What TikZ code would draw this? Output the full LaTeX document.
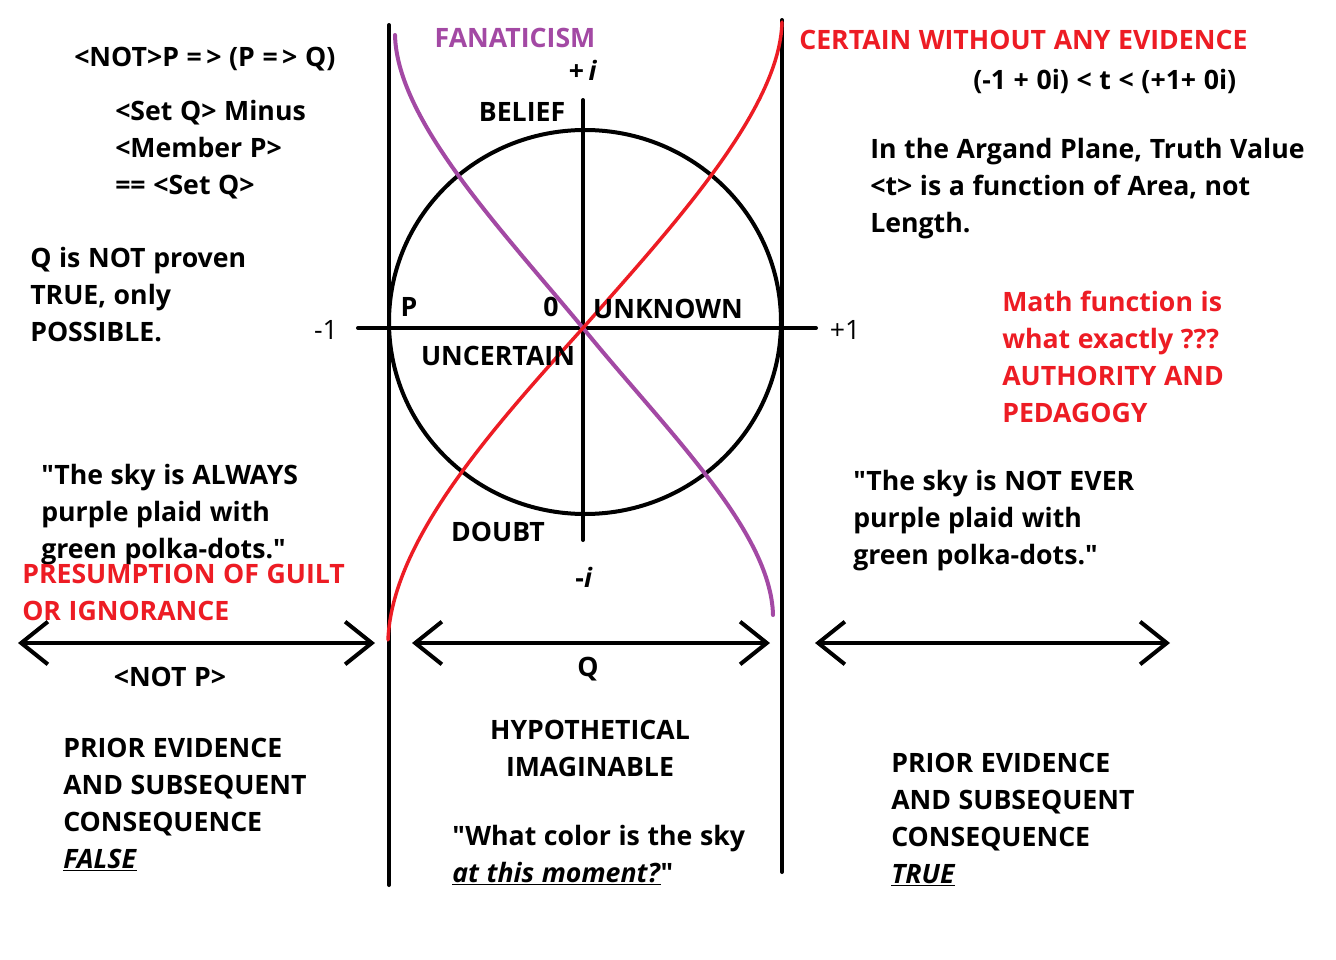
\documentclass[tikz,border=0pt]{standalone}
\usepackage{fontspec}
\setmainfont{Open Sans}[Ligatures=TeXOff, WordSpace=1.1]
\usepackage{xcolor}
\usepackage{tikz}
\usetikzlibrary{arrows.meta,calc}
\definecolor{paintred}{RGB}{237,28,36}
\definecolor{paintpurple}{RGB}{163,73,164}
\tikzstyle{txt}=[font=\fontsize{20}{27.75}\selectfont\bfseries,% block of text, top left
inner sep=0pt, align=left, anchor=north west]
\tikzstyle{tag}=[font=\fontsize{20}{27.75}\selectfont\bfseries, inner sep=0pt]
\tikzstyle{bar}=[line width=3pt, line cap=round]
\tikzstyle{dblarrow}=[line width=3pt, line cap=round,
{Straight Barb[length=20pt,width=32pt]}-{Straight Barb[length=20pt,width=32pt]}]

\begin{document}
\begin{tikzpicture}[x=0.75pt,y=-0.75pt]
\useasboundingbox[fill=white] (0,0) rectangle (1336,960);

% the two walls and the axes
\coordinate (lwtop) at (389,25);
\coordinate (lwbot) at (389,885);
\coordinate (rwtop) at (782,20);
\coordinate (rwbot) at (782,872);
\coordinate (reL) at (358,328);
\coordinate (reR) at (816,328);
\coordinate (imT) at (583,100);
\coordinate (imB) at (583,540);
\coordinate (orig) at (583,328);

\draw[bar] (lwtop) -- (lwbot);
\draw[bar] (rwtop) -- (rwbot);
\draw[bar] (reL) -- (reR);
\draw[bar] (imT) -- (imB);
\draw[bar] (585,322) ellipse (196 and 192);

% the two curves
\draw[line width=3pt, paintpurple, line cap=round] (395,35) .. controls (397,120) and (500,228) .. (orig)
  .. controls (664,428) and (771,530) .. (773,615);
\draw[line width=2.6pt, paintred, line cap=round] (388,640) .. controls (392,540) and (493,428) .. (orig)
  .. controls (671,228) and (780,110) .. (782,22);

% arrows
\coordinate (a1l) at (18,643);
\coordinate (a1r) at (375,643);
\coordinate (a2l) at (412,643);
\coordinate (a2r) at (770,643);
\coordinate (a3l) at (815,643);
\coordinate (a3r) at (1170,643);
\draw[dblarrow] (a1l) -- (a1r);
\draw[dblarrow] (a2l) -- (a2r);
\draw[dblarrow] (a3l) -- (a3r);

% labels on the plane
\node[tag, paintpurple] (fan) at (515,38) {FANATICISM};
\node[tag] (plusi) at (583,70) {+\,\textit{i}};
\node[tag] (belief) at (522,112) {BELIEF};
\node[tag] (pP) at (409,307) {P};
\node[tag] (zero) at (551,307) {0};
\node[tag] (unknown) at (668,309) {UNKNOWN};
\node[tag] (uncertain) at (498,356) {UNCERTAIN};
\node[tag] (doubt) at (498,532) {DOUBT};
\node[tag] (minusi) at (584,577) {-\textit{i}};
\node[tag] (qQ) at (588,669) {Q};
\node[tag, font=\fontsize{20}{27.75}\selectfont] (minus1) at (326,330) {-1};
\node[tag, font=\fontsize{20}{27.75}\selectfont] (plus1) at (845,330) {+1};

% left column
\node[txt] (impl) at (74,47) {<NOT>P =\,> (P =\,> Q)};
\node[txt] (setq) at (115,100) {<Set Q> Minus\\<Member P>\\== <Set Q>};
\node[txt] (proven) at (30,247) {Q is NOT proven\\TRUE, only\\POSSIBLE.};
\node[txt] (always) at (41,464) {"The sky is ALWAYS\\purple plaid with\\green polka-dots."};
\node[txt, paintred] (guilt) at (22,564) {PRESUMPTION OF GUILT\\OR IGNORANCE};
\node[tag] (notP) at (170,677) {<NOT P>};
\node[txt] (falseblk) at (63,738) {PRIOR EVIDENCE\\AND SUBSEQUENT\\CONSEQUENCE\\\underline{\textit{FALSE}}};

% middle column
\node[txt, align=center, anchor=north] (hypo) at (590,720) {HYPOTHETICAL\\IMAGINABLE};
\node[txt] (what) at (452,825) {"What color is the sky\\\underline{\textit{at this moment?}}"};

% right column
\node[txt, paintred, anchor=west] (certain) at (799,40) {CERTAIN WITHOUT ANY EVIDENCE};
\node[txt, anchor=west] (ineq) at (973,81) {(-1 + 0i) < t < (+1+ 0i)};
\node[txt] (argand) at (870,138) {In the Argand Plane, Truth Value\\<t> is a function of Area, not\\Length.};
\node[txt, paintred] (mathf) at (1002,291) {Math function is\\what exactly ???\\AUTHORITY AND\\PEDAGOGY};
\node[txt] (never) at (853,470) {"The sky is NOT EVER\\purple plaid with\\green polka-dots."};
\node[txt] (trueblk) at (891,753) {PRIOR EVIDENCE\\AND SUBSEQUENT\\CONSEQUENCE\\\underline{\textit{TRUE}}};

\end{tikzpicture}
\end{document}
